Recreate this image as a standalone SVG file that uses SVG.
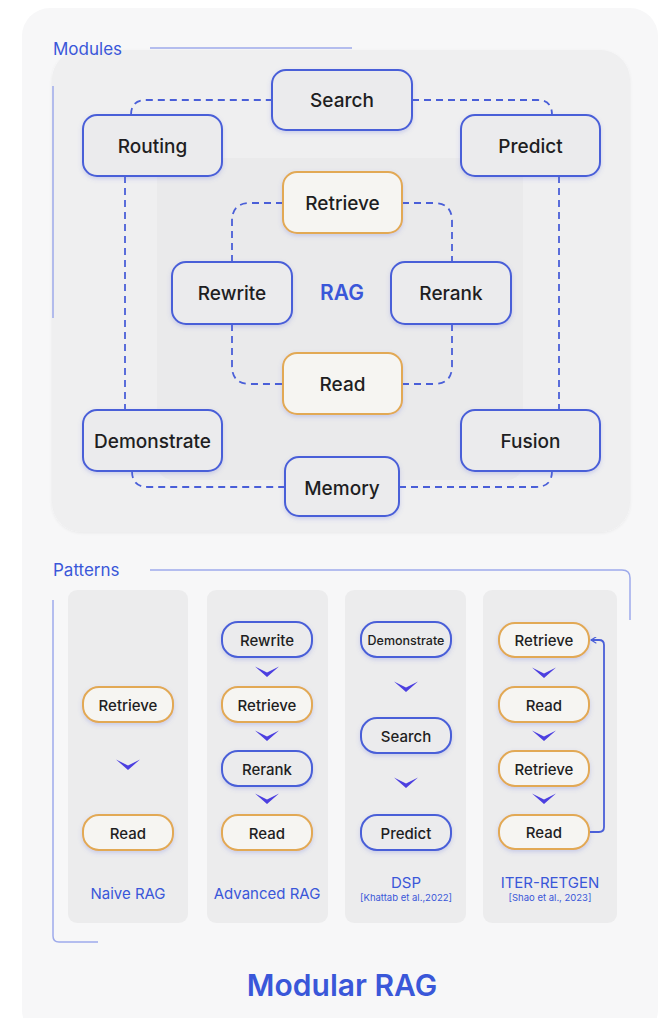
<svg xmlns="http://www.w3.org/2000/svg" width="666" height="1018" viewBox="0 0 666 1018">
  <defs>
    <filter id="shadow" x="-20%" y="-20%" width="140%" height="160%">
      <feDropShadow dx="0" dy="2" stdDeviation="2" flood-color="#5a6bd8" flood-opacity="0.25"/>
    </filter>
    <filter id="soft" x="-10%" y="-10%" width="120%" height="120%">
      <feDropShadow dx="0" dy="1" stdDeviation="1.5" flood-color="#000" flood-opacity="0.06"/>
    </filter>
    <marker id="arrow" viewBox="0 0 10 10" refX="9" refY="5" markerWidth="7" markerHeight="7" orient="auto" markerUnits="userSpaceOnUse">
      <path d="M9 5 L2 0.8 M9 5 L2 9.2" fill="none" stroke="#4a5fd8" stroke-width="1.8" stroke-linecap="round"/>
    </marker>
    <path id="chev" d="M-12 -5.5 L0 0.5 L12 -5.5 L0 5 Z"/>
  </defs>
  <style>
    .card{fill:#f7f7f8}
    .panel{fill:#efeff0}
    .inner{fill:#eaeaeb}
    .col{fill:#ececed}
    .bn{fill:#ebebed;stroke:#4a5fd8;stroke-width:2;filter:url(#shadow)}
    .on{fill:#f6f5f2;stroke:#e2a954;stroke-width:2;filter:url(#shadow)}
    .t{font-family:Inter,"Liberation Sans",sans-serif;font-weight:500;fill:#1e1e22;text-anchor:middle;dominant-baseline:central}
    .big{font-size:19px}
    .sm{font-size:15px}
    .xs{font-size:12.5px}
    .lbl{font-family:Inter,"Liberation Sans",sans-serif;fill:#3a57d9;text-anchor:middle}
    .head{font-family:Inter,"Liberation Sans",sans-serif;fill:#3a57d9;font-size:17px}
    .dash{fill:none;stroke:#4a5fd8;stroke-width:1.8;stroke-dasharray:7 5}
    .guide{fill:none;stroke:#9eaaeb;stroke-width:1.5}
    .chev{fill:#4c3fe0}
  </style>

  <!-- background card -->
  <rect x="0" y="0" width="666" height="1018" fill="#ffffff"/>
  <rect class="card" x="22" y="8" width="636" height="1030" rx="28"/>

  <!-- Modules section backdrop -->
  <rect class="panel" x="52" y="50" width="578" height="482" rx="30" filter="url(#soft)"/>
  <rect class="inner" x="157" y="158" width="366" height="322" rx="16"/>
  <text class="head" x="53" y="55">Modules</text>
  <path class="guide" d="M150 48 H352"/>
  <path class="guide" d="M53 86 V318"/>

  <!-- Patterns section backdrop -->
  <text class="head" x="53" y="576">Patterns</text>
  <path class="guide" d="M150 570 H622 Q630 570 630 578 V620"/>
  <path class="guide" d="M53 600 V936 Q53 942 59 942 H98"/>
  <rect class="col" x="68" y="590" width="120" height="333" rx="9"/>
  <rect class="col" x="207" y="590" width="121" height="333" rx="9"/>
  <rect class="col" x="345" y="590" width="121" height="333" rx="9"/>
  <rect class="col" x="483" y="590" width="134" height="333" rx="9"/>

  <!-- connectors -->
  <g id="connectors">
    <path class="dash" d="M131 115 Q131 100 146 100 H272"/>
    <path class="dash" d="M412 100 H538 Q552 100 552 115"/>
    <path class="dash" d="M125 176 V410"/>
    <path class="dash" d="M559 176 V410"/>
    <path class="dash" d="M132 471 Q132 487 148 487 H285"/>
    <path class="dash" d="M399 487 H536 Q552 487 552 471"/>
    <path class="dash" d="M283 203 H250 Q232 203 232 221 V262"/>
    <path class="dash" d="M402 203 H434 Q452 203 452 221 V262"/>
    <path class="dash" d="M232 324 V366 Q232 384 250 384 H283"/>
    <path class="dash" d="M452 324 V366 Q452 384 434 384 H402"/>
    <path fill="none" stroke="#4a5fd8" stroke-width="1.8" d="M590 832 H599 Q604 832 604 827 V645 Q604 640 599 640 H591" marker-end="url(#arrow)"/>
    <use href="#chev" class="chev" x="128" y="765"/>
    <use href="#chev" class="chev" x="267" y="672"/>
    <use href="#chev" class="chev" x="267" y="736"/>
    <use href="#chev" class="chev" x="267" y="799"/>
    <use href="#chev" class="chev" x="406" y="687"/>
    <use href="#chev" class="chev" x="406" y="783"/>
    <use href="#chev" class="chev" x="544" y="673"/>
    <use href="#chev" class="chev" x="544" y="736"/>
    <use href="#chev" class="chev" x="544" y="799"/>
  </g>

  <!-- module nodes -->
  <g id="search"><rect class="bn" x="272" y="70" width="140" height="60" rx="14"/><text class="t big" x="342" y="100">Search</text></g>
  <g id="routing"><rect class="bn" x="83" y="115" width="139" height="61" rx="14"/><text class="t big" x="152.5" y="146">Routing</text></g>
  <g id="predict"><rect class="bn" x="461" y="115" width="139" height="61" rx="14"/><text class="t big" x="530.5" y="146">Predict</text></g>
  <g id="retrieve"><rect class="on" x="283" y="172" width="119" height="61" rx="14"/><text class="t big" x="342.5" y="203">Retrieve</text></g>
  <g id="rewrite"><rect class="bn" x="172" y="262" width="120" height="62" rx="14"/><text class="t big" x="232" y="293">Rewrite</text></g>
  <g id="rag"><text class="lbl" x="342" y="300" font-size="21" font-weight="600">RAG</text></g>
  <g id="rerank"><rect class="bn" x="391" y="262" width="120" height="62" rx="14"/><text class="t big" x="451" y="293">Rerank</text></g>
  <g id="read"><rect class="on" x="283" y="353" width="119" height="61" rx="14"/><text class="t big" x="342.5" y="384">Read</text></g>
  <g id="demonstrate"><rect class="bn" x="83" y="410" width="139" height="61" rx="14"/><text class="t big" x="152.5" y="441">Demonstrate</text></g>
  <g id="fusion"><rect class="bn" x="461" y="410" width="139" height="61" rx="14"/><text class="t big" x="530.5" y="441">Fusion</text></g>
  <g id="memory"><rect class="bn" x="285" y="457" width="114" height="59" rx="14"/><text class="t big" x="342" y="488">Memory</text></g>

  <!-- Naive RAG -->
  <g id="naive-retrieve"><rect class="on" x="83" y="687" width="90" height="35" rx="16"/><text class="t sm" x="128" y="705">Retrieve</text></g>
  <g id="naive-read"><rect class="on" x="83" y="815" width="90" height="35" rx="16"/><text class="t sm" x="128" y="833">Read</text></g>
  <text class="lbl" x="128" y="899" font-size="15">Naive RAG</text>

  <!-- Advanced RAG -->
  <g id="adv-rewrite"><rect class="bn" x="222" y="622" width="90" height="35" rx="16"/><text class="t sm" x="267" y="640">Rewrite</text></g>
  <g id="adv-retrieve"><rect class="on" x="222" y="687" width="90" height="35" rx="16"/><text class="t sm" x="267" y="705">Retrieve</text></g>
  <g id="adv-rerank"><rect class="bn" x="222" y="751" width="90" height="35" rx="16"/><text class="t sm" x="267" y="769">Rerank</text></g>
  <g id="adv-read"><rect class="on" x="222" y="815" width="90" height="35" rx="16"/><text class="t sm" x="267" y="833">Read</text></g>
  <text class="lbl" x="267" y="899" font-size="15">Advanced RAG</text>

  <!-- DSP -->
  <g id="dsp-demonstrate"><rect class="bn" x="361" y="622" width="90" height="35" rx="16"/><text class="t xs" x="406" y="640">Demonstrate</text></g>
  <g id="dsp-search"><rect class="bn" x="361" y="718" width="90" height="35" rx="16"/><text class="t sm" x="406" y="736">Search</text></g>
  <g id="dsp-predict"><rect class="bn" x="361" y="815" width="90" height="35" rx="16"/><text class="t sm" x="406" y="833">Predict</text></g>
  <text class="lbl" x="406" y="888" font-size="15">DSP</text>
  <text class="lbl" x="406" y="901" font-size="9.5">[Khattab et al.,2022]</text>

  <!-- ITER-RETGEN -->
  <g id="iter-retrieve1"><rect class="on" x="499" y="623" width="90" height="34" rx="16"/><text class="t sm" x="544" y="640">Retrieve</text></g>
  <g id="iter-read1"><rect class="on" x="499" y="687" width="90" height="35" rx="16"/><text class="t sm" x="544" y="705">Read</text></g>
  <g id="iter-retrieve2"><rect class="on" x="499" y="751" width="90" height="35" rx="16"/><text class="t sm" x="544" y="769">Retrieve</text></g>
  <g id="iter-read2"><rect class="on" x="499" y="815" width="90" height="34" rx="16"/><text class="t sm" x="544" y="832">Read</text></g>
  <text class="lbl" x="550" y="888" font-size="15">ITER-RETGEN</text>
  <text class="lbl" x="550" y="901" font-size="9.5">[Shao et al., 2023]</text>

  <!-- title -->
  <text class="lbl" x="342" y="996" font-size="30" font-weight="600">Modular RAG</text>
</svg>
